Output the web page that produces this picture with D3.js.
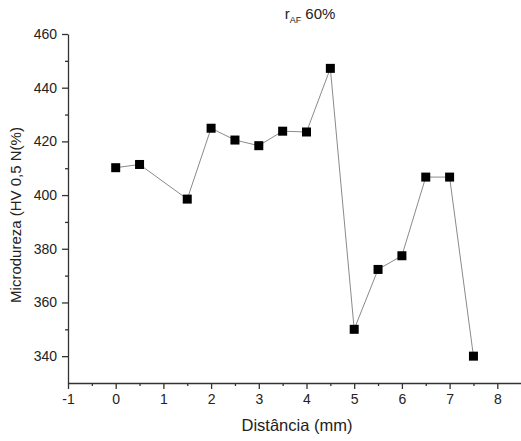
<!DOCTYPE html>
<html>
<head>
<meta charset="utf-8">
<script src="https://cdn.jsdelivr.net/npm/d3@7"></script>
<style>
  body { margin: 0; background: #fff; }
  text { font-family: "Liberation Sans", Arial, sans-serif; fill: #222; }
</style>
</head>
<body>
<script>
// data
var distancia = [0, 0.5, 1.5, 2, 2.5, 3, 3.5, 4, 4.5, 5, 5.5, 6, 6.5, 7, 7.5];
var dureza = [410.2, 411.4, 398.5, 424.9, 420.5, 418.4, 423.8, 423.5, 447.2, 350, 372.3, 377.4, 406.7, 406.7, 340];
var xTicks = [-1, 0, 1, 2, 3, 4, 5, 6, 7, 8];
var yTicks = [340, 360, 380, 400, 420, 440, 460];

var W = 521, H = 441;
var margin = { top: 34, left: 68, bottom: 58 };
var plotH = H - margin.top - margin.bottom;

var svg = d3.select('body').append('svg')
	.attr('width', W)
	.attr('height', H);

var g = svg.append('g')
	.attr('transform', `translate(${margin.left}, ${margin.top})`);

// x axis runs past the right edge like in the original
var xScale = d3.scaleLinear().domain([-1, 9.5]).range([0, 47.7 * 10.5]);
var yScale = d3.scaleLinear().domain([330, 460]).range([plotH, 0]);

// minor ticks first
g.append('g')
	.attr('transform', `translate(0, ${plotH})`)
	.call(d3.axisBottom(xScale).tickValues(d3.range(-0.5, 9, 1)).tickSize(3).tickFormat(''))
	.call(function(a) { a.select('.domain').remove(); });
g.append('g')
	.call(d3.axisLeft(yScale).tickValues(d3.range(350, 460, 20)).tickSize(3).tickFormat(''))
	.call(function(a) { a.select('.domain').remove(); });

// plain hyphen for negatives, like the original
var fmt = function(d) { return String(d); };

g.append('g')
	.attr('transform', `translate(0, ${plotH})`)
	.call(d3.axisBottom(xScale).tickValues(xTicks).tickSize(6).tickSizeOuter(0).tickPadding(5).tickFormat(fmt));
g.append('g')
	.call(d3.axisLeft(yScale).tickValues(yTicks).tickSize(6).tickSizeOuter(0).tickPadding(5).tickFormat(fmt));

g.selectAll('.tick line, .domain').attr('stroke', '#333').attr('stroke-width', 1.3);
g.selectAll('.tick text').style('font-size', '14px').attr('fill', '#222');

var valueLine = d3.line()
	.x(function(d, i) { return xScale(distancia[i]); })
	.y(function(d) { return yScale(d); });

g.append('path')
	.datum(dureza)
	.attr('fill', 'none')
	.attr('stroke', '#8a8a8a')
	.attr('stroke-width', 1)
	.attr('d', valueLine);

g.selectAll('rect.pt')
	.data(dureza)
	.enter().append('rect')
	.attr('class', 'pt')
	.attr('x', function(d, i) { return xScale(distancia[i]) - 4.5; })
	.attr('y', function(d) { return yScale(d) - 4.5; })
	.attr('width', 9)
	.attr('height', 9)
	.attr('fill', '#000');

// title with subscript
var title = svg.append('text')
	.attr('x', 310)
	.attr('y', 19)
	.attr('text-anchor', 'middle')
	.style('font-size', '15px');
title.append('tspan').text('r');
title.append('tspan').attr('dy', 4).style('font-size', '9px').text('AF');
title.append('tspan').attr('dy', -4).text(' 60%');

svg.append('text')
	.attr('x', 297)
	.attr('y', 431)
	.attr('text-anchor', 'middle')
	.style('font-size', '16.5px')
	.text('Distância (mm)');

svg.append('text')
	.attr('transform', 'translate(21, 215) rotate(-90)')
	.attr('text-anchor', 'middle')
	.style('font-size', '15px')
	.text('Microdureza (HV 0,5 N(%)');
</script>
</body>
</html>
